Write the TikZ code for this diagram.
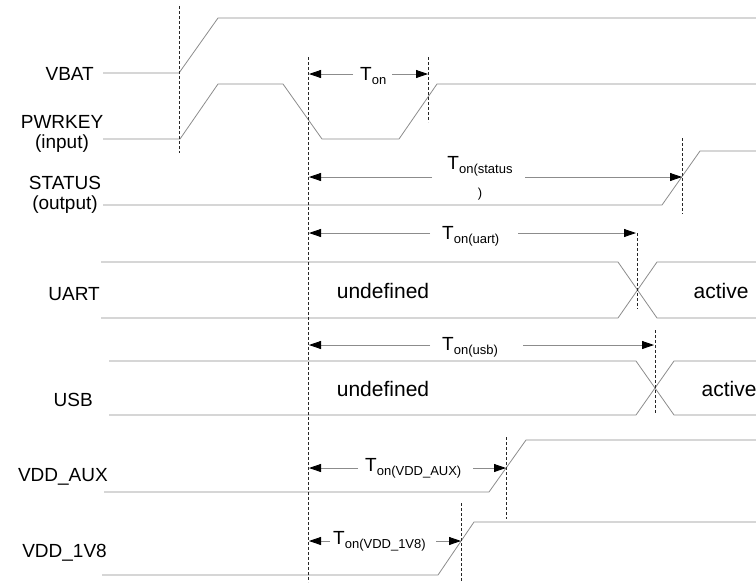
\documentclass[tikz,border=0pt]{standalone}
\usepackage{fontspec}
\setmainfont{Liberation Sans}
\usetikzlibrary{arrows.meta}
\newcommand{\Tsub}[1]{T\raisebox{-4pt}{\fontsize{13}{13}\selectfont #1}}
\begin{document}
\begin{tikzpicture}[x=1pt,y=-1pt,
  sig/.style={draw=black!45, line width=0.8pt, line join=round},
  vdash/.style={draw=black!85, line width=0.7pt, dash pattern=on 3pt off 2pt},
  meas/.style={draw=black!45, line width=0.8pt, -{Triangle[length=12pt,width=8pt,color=black]}},
  lbl/.style={font=\fontsize{19}{20}\selectfont, inner sep=0pt},
  state/.style={font=\fontsize{21}{22}\selectfont, inner sep=0pt},
  tlbl/.style={font=\fontsize{19}{20}\selectfont, inner sep=0pt, anchor=base west}
]
\useasboundingbox (0,0) rectangle (756,582);

% ---- signal labels
\node[lbl, anchor=east] (lvbat) at (94,74) {VBAT};
\node[lbl, align=center, font=\fontsize{19}{20}\selectfont] (lpwr) at (62,134) {PWRKEY\\(input)};
\node[lbl, align=center, font=\fontsize{19}{20}\selectfont] (lstat) at (65,195) {STATUS\\(output)};
\node[lbl, anchor=east] (luart) at (100,294) {UART};
\node[lbl, anchor=east] (lusb) at (93,400) {USB};
\node[lbl, anchor=east] (laux) at (108,477) {VDD\_AUX};
\node[lbl, anchor=east] (l1v8) at (107,553) {VDD\_1V8};

% ---- waveforms
\draw[sig] (103,73) -- (179,73) -- (218,18) -- (756,18);
\draw[sig] (103,139) -- (180,139) -- (218,84) -- (283,84) -- (322,139) -- (399,139) -- (437,84) -- (756,84);
\draw[sig] (103,205) -- (662,205) -- (700,151) -- (756,151);
\draw[sig] (101,262) -- (618,262) -- (657,318) -- (756,318);
\draw[sig] (101,318) -- (618,318) -- (657,262) -- (756,262);
\draw[sig] (109,361) -- (636,361) -- (674,415) -- (756,415);
\draw[sig] (109,415) -- (636,415) -- (674,361) -- (756,361);
\draw[sig] (104,492) -- (489,492) -- (526,440) -- (756,440);
\draw[sig] (102,575) -- (438,575) -- (474,522) -- (756,522);

% ---- bus state labels
\node[state] (und1) at (383,291) {undefined};
\node[state] (act1) at (721,291) {active};
\node[state] (und2) at (383,389) {undefined};
\node[state] (act2) at (729,389) {active};

% ---- dashed reference lines
\draw[vdash] (179,6) -- (179,153);
\draw[vdash] (308,57) -- (308,582);
\draw[vdash] (428,57) -- (428,122);
\draw[vdash] (682,138) -- (682,214);
\draw[vdash] (637,233) -- (637,309);
\draw[vdash] (655,330) -- (655,413);
\draw[vdash] (506,437) -- (506,519);
\draw[vdash] (461,503) -- (461,582);

% ---- timing labels
\node[tlbl] (ton) at (360,80) {\Tsub{on}};
\node[inner sep=0pt, anchor=north, align=center, font=\fontsize{19}{28}\selectfont] (tstat) at (480,156) {\Tsub{on(status}\\{\fontsize{13}{13}\selectfont )}};
\node[tlbl] (tuart) at (442,239) {\Tsub{on(uart)}};
\node[tlbl] (tusb) at (442,350) {\Tsub{on(usb)}};
\node[tlbl] (taux) at (365,471) {\Tsub{on(VDD\_AUX)}};
\node[tlbl] (t1v8) at (333,544) {\Tsub{on(VDD\_1V8)}};

% ---- measurement arrows
\coordinate (a1s) at (353,74);  \coordinate (a1t) at (309,74);
\coordinate (a2s) at (392,74);  \coordinate (a2t) at (428,74);
\coordinate (b1s) at (432,177); \coordinate (b1t) at (309,177);
\coordinate (b2s) at (525,177); \coordinate (b2t) at (682,177);
\coordinate (c1s) at (430,233); \coordinate (c1t) at (309,233);
\coordinate (c2s) at (518,233); \coordinate (c2t) at (636,233);
\coordinate (d1s) at (430,345); \coordinate (d1t) at (309,345);
\coordinate (d2s) at (523,345); \coordinate (d2t) at (654,345);
\coordinate (e1s) at (358,468); \coordinate (e1t) at (309,468);
\coordinate (e2s) at (473,468); \coordinate (e2t) at (506,468);
\coordinate (f1s) at (330,541); \coordinate (f1t) at (309,541);
\coordinate (f2s) at (436,541); \coordinate (f2t) at (461,541);
\draw[meas] (a1s) -- (a1t);
\draw[meas] (a2s) -- (a2t);
\draw[meas] (b1s) -- (b1t);
\draw[meas] (b2s) -- (b2t);
\draw[meas] (c1s) -- (c1t);
\draw[meas] (c2s) -- (c2t);
\draw[meas] (d1s) -- (d1t);
\draw[meas] (d2s) -- (d2t);
\draw[meas] (e1s) -- (e1t);
\draw[meas] (e2s) -- (e2t);
\draw[meas] (f1s) -- (f1t);
\draw[meas] (f2s) -- (f2t);
\end{tikzpicture}
\end{document}
